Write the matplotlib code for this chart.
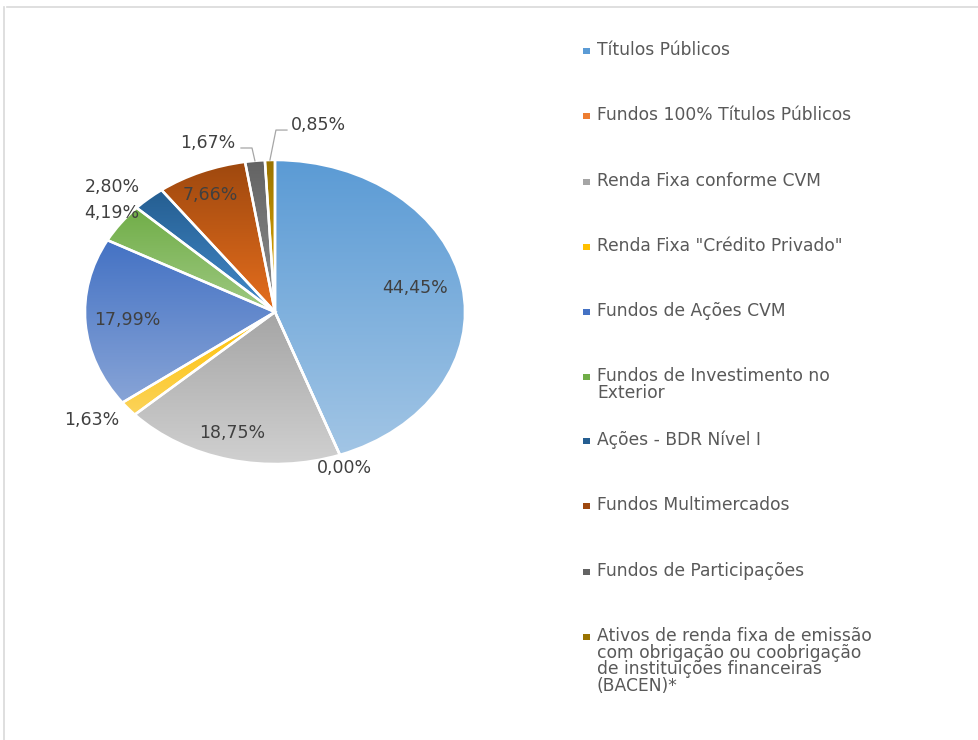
import numpy as np
import matplotlib
matplotlib.use("Agg")
import matplotlib.pyplot as plt
import colorsys
from matplotlib.patches import Rectangle
from matplotlib.lines import Line2D

categories = [
    "Títulos Públicos",
    "Fundos 100% Títulos Públicos",
    "Renda Fixa conforme CVM",
    'Renda Fixa "Crédito Privado"',
    "Fundos de Ações CVM",
    "Fundos de Investimento no\nExterior",
    "Ações - BDR Nível I",
    "Fundos Multimercados",
    "Fundos de Participações",
    "Ativos de renda fixa de emissão\ncom obrigação ou coobrigação\nde instituições financeiras\n(BACEN)*",
]
values = [44.45, 0.00, 18.75, 1.63, 17.99, 4.19, 2.80, 7.66, 1.67, 0.85]
labels = ["44,45%", "0,00%", "18,75%", "1,63%", "17,99%", "4,19%", "2,80%", "7,66%", "1,67%", "0,85%"]
colors = ["#5B9BD5", "#ED7D31", "#A5A5A5", "#FFC000", "#4472C4",
          "#70AD47", "#255E91", "#9E480E", "#636363", "#997300"]

# label positions (data coords of the elliptical pie, radius 1)
label_pos = [(0.737, 0.158), (0.368, -1.026), (-0.226, -0.796), (-0.963, -0.711),
             (-0.779, -0.053), (-0.858, 0.651), (-0.858, 0.822), (-0.342, 0.770),
             (-0.353, 1.112), (0.226, 1.230)]
leaders = {8: [(-0.179, 1.079), (-0.121, 1.079)], 9: [(0.063, 1.197), (0.005, 1.197)]}

W, H = 979, 740
fig = plt.figure(figsize=(W / 100, H / 100), dpi=100)
fig.patch.set_facecolor("white")

# border (top and left visible)
fig.add_artist(Line2D([7 / W, 1], [1 - 7 / H, 1 - 7 / H], color="#D9D9D9", lw=1.2))
fig.add_artist(Line2D([4 / W, 4 / W], [0, 1 - 7 / H], color="#D9D9D9", lw=1.2))

cx, cy, rx, ry = 275, 312, 190, 152
ax = fig.add_axes([(cx - rx) / W, 1 - (cy + ry) / H, 2 * rx / W, 2 * ry / H])
ax.set_axis_off()

wedges, _ = ax.pie(values, startangle=90, counterclock=False, radius=1,
                   colors=colors, wedgeprops=dict(linewidth=0))


def light(c, dl):
    r, g, b = matplotlib.colors.to_rgb(c)
    h, l, s = colorsys.rgb_to_hls(r, g, b)
    return colorsys.hls_to_rgb(h, min(l + dl, 0.95), s * 0.95 if dl > 0 else s)


for w, c in zip(wedges, colors):
    w.set_facecolor("none")
    w.set_edgecolor("white")
    w.set_linewidth(1.8)
    w.set_zorder(3)
    ext = w.get_path().get_extents()
    top = np.array(light(c, 0.0))
    bot = np.array(light(c, 0.17))
    t = np.linspace(0, 1, 256)[:, None, None]
    grad = top[None, None, :] * (1 - t) + bot[None, None, :] * t
    if ext.width > 0 and ext.height > 0:
        im = ax.imshow(grad, extent=(ext.x0, ext.x1, ext.y0, ext.y1), origin="upper",
                       aspect="auto", zorder=2, interpolation="bilinear")
        im.set_clip_path(w)

ax.set_xlim(-1, 1)
ax.set_ylim(-1, 1)

for i, (lab, (lx, ly)) in enumerate(zip(labels, label_pos)):
    ax.text(lx, ly, lab, ha="center", va="center", fontsize=12.5, color="#404040",
            family="DejaVu Sans", zorder=5, clip_on=False)

# leader lines ending at wedge mid-angle on the rim
cum = np.cumsum([0] + values[:-1])
total = sum(values)
for i, pts in leaders.items():
    mid = cum[i] + values[i] / 2
    ang = np.deg2rad(90 - mid / total * 360)
    xs = [p[0] for p in pts] + [np.cos(ang)]
    ys = [p[1] for p in pts] + [np.sin(ang)]
    ax.plot(xs, ys, color="#A6A6A6", lw=0.9, zorder=4, clip_on=False)

# legend
leg_y = [50, 115, 181, 246, 311, 376, 440, 505, 571, 636]
line_h = 16.6
for cat, c, y in zip(categories, colors, leg_y):
    fig.add_artist(Rectangle((583 / W, 1 - (y + 4) / H), 7 / W, 6 / H,
                             facecolor=c, edgecolor="none", transform=fig.transFigure))
    for k, line in enumerate(cat.split("\n")):
        fig.text(597 / W, 1 - (y + k * line_h) / H, line, ha="left", va="center",
                 fontsize=12.3, color="#595959", family="DejaVu Sans")

fig.savefig("out.png", dpi=100, facecolor="white")
